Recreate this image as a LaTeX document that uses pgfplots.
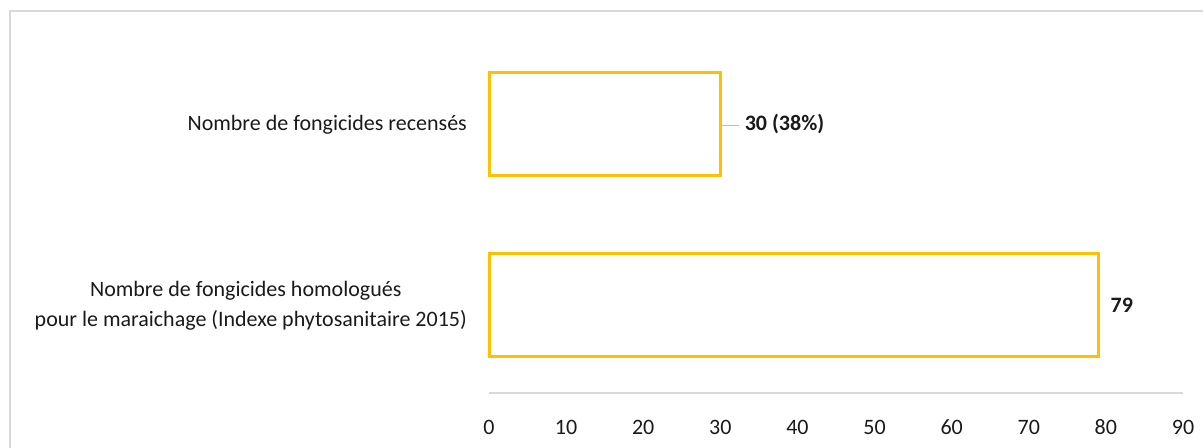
\documentclass[border=0pt]{standalone}
\usepackage{pgfplots}
\pgfplotsset{compat=1.18}
\usepackage{fontspec}
\setmainfont{Carlito}

\definecolor{barGold}{HTML}{FFC000}
\definecolor{lineGrey}{HTML}{D9D9D9}
\definecolor{leadGrey}{HTML}{BFBFBF}
\definecolor{txt}{HTML}{1A1A1A}

\begin{document}
\begin{tikzpicture}
\fontsize{22bp}{30bp}\selectfont
% page extent and outer frame
\path[use as bounding box] (0,0) rectangle (1203bp,-448bp);
\draw[lineGrey, line width=1.5bp] (10bp,-448bp) -- (10bp,-11bp) -- (1203bp,-11bp);

\begin{axis}[
  at={(489bp,-393bp)}, anchor=south west,
  scale only axis, width=694bp, height=360bp,
  xmin=0, xmax=90, ymin=-0.487, ymax=1.502,
  xtick={0,10,...,90},
  ytick={0,1},
  yticklabels={{Nombre de fongicides homologués\hspace*{10bp}\\pour le maraichage (Indexe phytosanitaire 2015)},
               {Nombre de fongicides recensés}},
  major tick length=0pt,
  axis x line*=bottom,
  axis y line*=left,
  x axis line style={draw=lineGrey, line width=1.2bp, -},
  y axis line style={draw=none},
  /pgf/number format/assume math mode=true,
  tick label style={font=\fontsize{22bp}{30bp}\selectfont, text=txt, inner sep=0pt},
  xticklabel style={anchor=center, yshift=-34bp},
  yticklabel style={anchor=east, align=center, xshift=-22bp, yshift=-1bp},
  xbar, bar width=0.57,
  point meta=explicit symbolic,
  nodes near coords,
  every node near coord/.append style={anchor=west, inner sep=0pt,
     font=\fontsize{22bp}{30bp}\selectfont\bfseries, text=txt},
  clip=false,
]
\addplot[draw=barGold, fill=white, line width=3bp] coordinates {
  (79,0) [\hspace*{11bp}79]
  (30,1) [{\color{leadGrey}\rule[0.22em]{17bp}{1bp}}\hspace*{6bp}30 (38\%)]
};
\end{axis}
\end{tikzpicture}
\end{document}
